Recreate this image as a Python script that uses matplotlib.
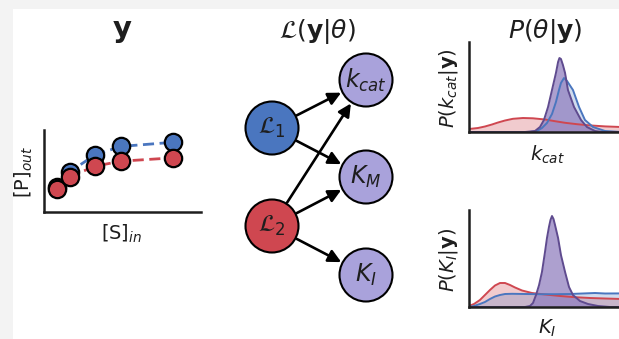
import numpy as np
import matplotlib
matplotlib.use("Agg")
import matplotlib.pyplot as plt
from matplotlib.patches import Circle, Rectangle, FancyArrowPatch

# ---------------- data ----------------
# substrate input vs product output for the two experiments
s_in = [0.5, 1.0, 2.0, 3.0, 5.0]
p_out_1 = [0.30, 0.49, 0.70, 0.80, 0.85]
p_out_2 = [0.28, 0.43, 0.56, 0.62, 0.66]

# posterior densities for k_cat (experiment 1, experiment 2, joint)
kcat_x_1 = [0.0, 4.01, 4.47, 4.80, 5.13, 5.46, 5.72, 5.92, 6.05, 6.25, 6.45, 6.84, 7.24, 7.63, 8.16, 8.95, 10.0]
kcat_d_1 = [0.0, 0.0, 0.01, 0.04, 0.09, 0.18, 0.30, 0.42, 0.49, 0.54, 0.51, 0.42, 0.25, 0.12, 0.05, 0.01, 0.0]
kcat_x_2 = [0.0, 0.59, 1.05, 1.51, 1.91, 2.37, 2.89, 3.55, 4.21, 5.00, 5.66, 6.32, 7.11, 7.96, 8.95, 10.0]
kcat_d_2 = [0.03, 0.04, 0.055, 0.075, 0.095, 0.115, 0.132, 0.14, 0.137, 0.125, 0.108, 0.092, 0.078, 0.066, 0.056, 0.05]
kcat_x_j = [0.0, 3.68, 4.01, 4.34, 4.67, 4.93, 5.20, 5.46, 5.72, 5.86, 5.95, 6.05, 6.18, 6.32, 6.51, 6.91, 7.37, 7.76, 8.29, 8.75, 10.0]
kcat_d_j = [0.0, 0.0, 0.005, 0.01, 0.05, 0.12, 0.25, 0.42, 0.59, 0.70, 0.74, 0.73, 0.67, 0.59, 0.42, 0.25, 0.12, 0.05, 0.01, 0.0, 0.0]

# posterior densities for K_I
ki_x_1 = [0.0, 0.33, 0.72, 1.05, 1.38, 1.71, 2.04, 2.37, 2.83, 3.68, 4.67, 5.66, 6.64, 7.63, 8.29, 8.95, 10.0]
ki_d_1 = [0.0, 0.01, 0.03, 0.05, 0.08, 0.105, 0.12, 0.13, 0.132, 0.13, 0.128, 0.128, 0.13, 0.136, 0.14, 0.135, 0.136]
ki_x_2 = [0.0, 0.33, 0.72, 1.05, 1.38, 1.71, 2.04, 2.37, 2.70, 3.03, 3.49, 4.14, 5.00, 5.99, 6.97, 7.96, 8.95, 10.0]
ki_d_2 = [0.01, 0.03, 0.07, 0.12, 0.17, 0.215, 0.24, 0.24, 0.22, 0.195, 0.165, 0.14, 0.125, 0.11, 0.098, 0.09, 0.085, 0.08]
ki_x_j = [0.0, 3.68, 4.01, 4.21, 4.41, 4.61, 4.80, 5.00, 5.13, 5.26, 5.36, 5.46, 5.56, 5.66, 5.86, 6.05, 6.32, 6.58, 6.84, 7.30, 7.83, 8.49, 9.28, 10.0]
ki_d_j = [0.0, 0.0, 0.01, 0.04, 0.12, 0.22, 0.35, 0.55, 0.69, 0.80, 0.87, 0.91, 0.88, 0.82, 0.69, 0.52, 0.35, 0.20, 0.12, 0.06, 0.03, 0.01, 0.0, 0.0]

# ---------------- style ----------------
W, H = 619, 339
BLUE = "#4a76bf"
RED = "#cf4750"
LAV = "#a9a2db"
PURPLE_FILL = "#9280c0"
PURPLE_EDGE = "#5f4b8f"
INK = "#1e1e1e"

fig = plt.figure(figsize=(W / 100, H / 100), dpi=100)
fig.patch.set_facecolor("#f3f3f3")


def box(l, t, r, b):
    return [l / W, 1 - b / H, (r - l) / W, (b - t) / H]


def ftext(x, y, s, **kw):
    kw.setdefault("ha", "center")
    kw.setdefault("va", "center")
    fig.text(x / W, 1 - y / H, s, **kw)


# canvas in pixel coordinates for the white panel and the graph
canvas = fig.add_axes([0, 0, 1, 1], zorder=0)
canvas.set_xlim(0, W)
canvas.set_ylim(H, 0)
canvas.axis("off")
canvas.add_patch(Rectangle((13, 9), W, H, facecolor="white", edgecolor="none"))

# ---------------- left: observations ----------------
ax = fig.add_axes(box(44, 130, 201, 212), zorder=2)
ax.set_facecolor("none")
ax.plot(s_in, p_out_1, color=BLUE, lw=2.0, ls=(0, (4, 2)), zorder=2)
ax.plot(s_in, p_out_2, color=RED, lw=2.0, ls=(0, (4, 2)), zorder=2)
ax.plot(s_in, p_out_1, "o", ms=12.5, mfc=BLUE, mec="black", mew=1.6, zorder=3, clip_on=False)
ax.plot(s_in, p_out_2, "o", ms=12.5, mfc=RED, mec="black", mew=1.6, zorder=3, clip_on=False)
ax.set_xlim(0, 6.1)
ax.set_ylim(0, 1.0)
ax.set_xticks([])
ax.set_yticks([])
for side in ("top", "right"):
    ax.spines[side].set_visible(False)
for side in ("left", "bottom"):
    ax.spines[side].set_linewidth(1.8)
    ax.spines[side].set_color(INK)

ftext(122, 31, r"$\mathbf{y}$", fontsize=21, color=INK)
ftext(122, 234, r"[S]$_{in}$", fontsize=14, color=INK)
ftext(24, 172, r"[P]$_{out}$", fontsize=14, color=INK, rotation=90)

# ---------------- middle: likelihood graph ----------------
R = 26.5
nodes = {
    "L1": (272, 128, BLUE, r"$\mathcal{L}_1$"),
    "L2": (272, 226, RED, r"$\mathcal{L}_2$"),
    "kcat": (366, 80, LAV, r"$k_{cat}$"),
    "KM": (366, 177, LAV, r"$K_M$"),
    "KI": (366, 275, LAV, r"$K_I$"),
}
edges = [("L1", "kcat"), ("L1", "KM"), ("L2", "kcat"), ("L2", "KM"), ("L2", "KI")]

for a, b in edges:
    xa, ya = nodes[a][:2]
    xb, yb = nodes[b][:2]
    arr = FancyArrowPatch((xa, ya), (xb, yb), arrowstyle="-|>", mutation_scale=19,
                          lw=1.9, color="black", shrinkA=R * 0.72 + 1, shrinkB=R * 0.72 + 1,
                          zorder=1)
    canvas.add_patch(arr)

for key, (x, y, c, lab) in nodes.items():
    canvas.add_patch(Circle((x, y), R, facecolor=c, edgecolor="black", lw=1.5, zorder=2))
    canvas.text(x, y, lab, ha="center", va="center", fontsize=17, color=INK, zorder=3)

ftext(317, 31, r"$\mathcal{L}(\mathbf{y}|\theta)$", fontsize=18, color=INK)

# ---------------- right: posteriors ----------------
def posterior(bounds, series, ylim):
    a = fig.add_axes(box(*bounds), zorder=2)
    a.set_facecolor("none")
    for xs, ds, lc, fc, falpha, lw in series:
        a.fill_between(xs, ds, color=fc, alpha=falpha, lw=0)
        a.plot(xs, ds, color=lc, lw=lw)
    a.set_xlim(0, 10)
    a.set_ylim(0, ylim)
    a.set_xticks([])
    a.set_yticks([])
    for side in ("top", "right"):
        a.spines[side].set_visible(False)
    for side in ("left", "bottom"):
        a.spines[side].set_linewidth(1.8)
        a.spines[side].set_color(INK)
        a.spines[side].set_zorder(5)
    return a


posterior((469, 42, 621, 132),
          [(kcat_x_2, kcat_d_2, RED, RED, 0.28, 1.4),
           (kcat_x_1, kcat_d_1, BLUE, BLUE, 0.25, 1.4),
           (kcat_x_j, kcat_d_j, PURPLE_EDGE, PURPLE_FILL, 0.75, 1.4)], 0.90)
posterior((469, 210, 621, 307),
          [(ki_x_2, ki_d_2, RED, RED, 0.28, 1.4),
           (ki_x_1, ki_d_1, BLUE, BLUE, 0.25, 1.4),
           (ki_x_j, ki_d_j, PURPLE_EDGE, PURPLE_FILL, 0.75, 1.4)], 0.97)

ftext(545, 31, r"$P(\theta|\mathbf{y})$", fontsize=18, color=INK)
ftext(547, 155, r"$k_{cat}$", fontsize=14, color=INK)
ftext(547, 328, r"$K_I$", fontsize=14, color=INK)
ftext(448, 88, r"$P(k_{cat}|\mathbf{y})$", fontsize=14, color=INK, rotation=90)
ftext(448, 260, r"$P(K_I|\mathbf{y})$", fontsize=14, color=INK, rotation=90)

fig.savefig("out.png", dpi=100, facecolor=fig.get_facecolor())
